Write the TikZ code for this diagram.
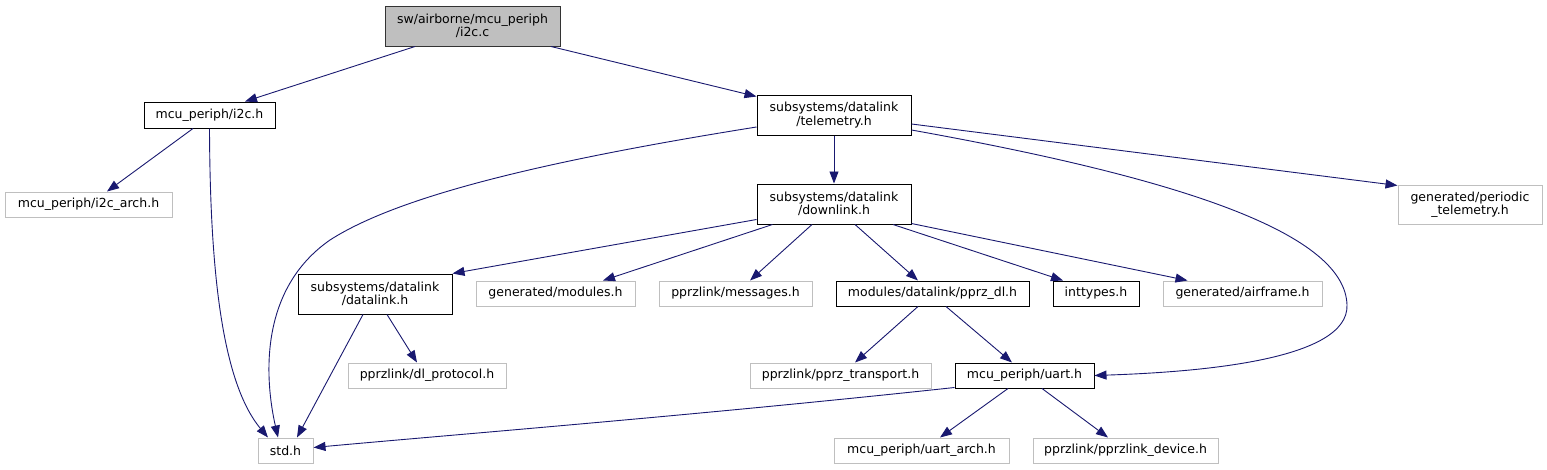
\documentclass[tikz,border=0pt]{standalone}
\usepackage{fontspec}
\setmainfont{DejaVu Sans}
\usetikzlibrary{arrows.meta,calc}
\definecolor{edgeblue}{HTML}{191970}
\definecolor{lightborder}{HTML}{BFBFBF}
\definecolor{rootfill}{HTML}{BFBFBF}
\begin{document}
\begin{tikzpicture}[x=1pt,y=-1pt,
  box/.style={draw=black, line width=1pt, rectangle, inner sep=0pt, align=center,
    font=\fontsize{12.5}{13.3}\selectfont},
  ubox/.style={box, draw=lightborder},
  rootbox/.style={box, fill=rootfill, draw=black!80},
  edge/.style={draw=edgeblue, line width=0.9pt, -{Triangle[length=12pt,width=9pt]}}]
\useasboundingbox (0,0) rectangle (1547,469);
\fill[white] (0,0) rectangle (1547,469);

% row 0
\node[rootbox, minimum width=175pt, minimum height=40pt] (i2cc) at (472.5,26) {sw/airborne/mcu\_periph\\/i2c.c};
% row 1
\node[box, minimum width=131pt, minimum height=26pt] (i2ch) at (209.5,115) {mcu\_periph/i2c.h};
\node[box, minimum width=154pt, minimum height=40pt] (tele) at (834,115) {subsystems/datalink\\/telemetry.h};
% row 2
\node[ubox, minimum width=167pt, minimum height=25pt] (i2carch) at (88.5,204.5) {mcu\_periph/i2c\_arch.h};
\node[box, minimum width=154pt, minimum height=40pt] (down) at (834,204) {subsystems/datalink\\/downlink.h};
\node[ubox, minimum width=144pt, minimum height=39pt] (periodic) at (1470,204.5) {generated/periodic\\\_telemetry.h};
% row 3
\node[box, minimum width=154pt, minimum height=40pt] (datalink) at (375,294) {subsystems/datalink\\/datalink.h};
\node[ubox, minimum width=159pt, minimum height=25pt] (modules) at (555.5,293.5) {generated/modules.h};
\node[ubox, minimum width=153pt, minimum height=25pt] (messages) at (735.5,293.5) {pprzlink/messages.h};
\node[box, minimum width=193pt, minimum height=25pt] (pprzdl) at (932.5,293.5) {modules/datalink/pprz\_dl.h};
\node[box, minimum width=86pt, minimum height=25pt] (inttypes) at (1096,293.5) {inttypes.h};
\node[ubox, minimum width=159pt, minimum height=25pt] (airframe) at (1242.5,293.5) {generated/airframe.h};
% row 4
\node[ubox, minimum width=158pt, minimum height=25pt] (dlproto) at (427,375.5) {pprzlink/dl\_protocol.h};
\node[ubox, minimum width=181pt, minimum height=25pt] (transport) at (840.5,375.5) {pprzlink/pprz\_transport.h};
\node[box, minimum width=139pt, minimum height=25pt] (uart) at (1024.5,375.5) {mcu\_periph/uart.h};
% row 5
\node[ubox, minimum width=55pt, minimum height=25pt] (std) at (285.5,450.5) {std.h};
\node[ubox, minimum width=175pt, minimum height=25pt] (uartarch) at (921.5,450.5) {mcu\_periph/uart\_arch.h};
\node[ubox, minimum width=185pt, minimum height=25pt] (device) at (1125.5,450.5) {pprzlink/pprzlink\_device.h};

% edges
\draw[edge] ($(i2cc.south)+(-57.5,0)$) -- ($(i2ch.north)+(35.5,0)$);
\draw[edge] ($(i2cc.south)+(78.5,0)$) -- ($(tele.north west)+(0,2)$);
\draw[edge] ($(i2ch.south)+(-16.5,0)$) -- ($(i2carch.north)+(18.5,0)$);
\draw[edge] (i2ch.south) .. controls (210,260) and (220,380) .. ($(std.north)+(-17.5,0)$);
\draw[edge] (tele.south) -- (down.north);
\draw[edge] ($(tele.west)+(0,12)$) .. controls (550,160) and (400,195) .. (330,240)
   .. controls (258,290) and (265,380) .. ($(std.north)+(-7.5,0)$);
\draw[edge] ($(tele.east)+(0,9)$) -- ($(periodic.north west)+(0,1)$);
\draw[edge] ($(tele.east)+(0,15)$) .. controls (1190,180) and (1345,235) .. (1347,305)
   .. controls (1349,360) and (1200,372) .. (uart.east);
\draw[edge] ($(down.south west)+(0,-5)$) -- (datalink.north east);
\draw[edge] ($(down.south west)+(16,0)$) -- ($(modules.north)+(47.5,0)$);
\draw[edge] ($(down.south)+(-22,0)$) -- ($(messages.north)+(14.5,0)$);
\draw[edge] ($(down.south)+(21,0)$) -- ($(pprzdl.north)+(-14.5,0)$);
\draw[edge] ($(down.south)+(59,0)$) -- ($(inttypes.north)+(-33,0)$);
\draw[edge] ($(down.south east)+(0,-1)$) -- ($(airframe.north)+(-55,0)$);
\draw[edge] ($(pprzdl.south)+(-14.5,0)$) -- ($(transport.north)+(14.5,0)$);
\draw[edge] ($(pprzdl.south)+(13.5,0)$) -- ($(uart.north)+(-12.5,0)$);
\draw[edge] ($(datalink.south)+(-12,0)$) -- ($(std.north)+(11.5,0)$);
\draw[edge] ($(datalink.south)+(12,0)$) -- ($(dlproto.north)+(-10,0)$);
\draw[edge] ($(uart.south west)+(0,-1)$) .. controls (700,415) and (450,435) .. ($(std.east)+(0,-3)$);
\draw[edge] ($(uart.south)+(-16.5,0)$) -- ($(uartarch.north)+(18.5,0)$);
\draw[edge] ($(uart.south)+(17.5,0)$) -- ($(device.north)+(-17.5,0)$);
\end{tikzpicture}
\end{document}
